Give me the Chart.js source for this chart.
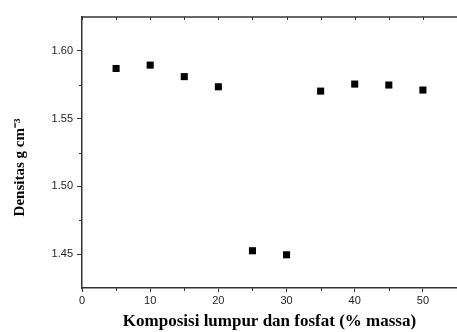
<!DOCTYPE html>
<html>
<head>
<meta charset="utf-8">
<script src="https://cdn.jsdelivr.net/npm/chart.js@4"></script>
<style>
  html, body { margin: 0; padding: 0; background: #fff; }
  #wrap { width: 457px; height: 332px; }
</style>
</head>
<body>
<div id="wrap"><canvas id="densChart" width="457" height="332"></canvas></div>
<script>
// data
const composition = [5, 10, 15, 20, 25, 30, 35, 40, 45, 50];
const density = [1.587, 1.5895, 1.581, 1.5735, 1.4525, 1.4495, 1.5703, 1.5755, 1.5748, 1.5711];
const xTicks = [0, 10, 20, 30, 40, 50];
const yTicks = [1.45, 1.50, 1.55, 1.60];
const xMinor = [5, 15, 25, 35, 45];
const yMinor = [1.475, 1.525, 1.575];

// extra ticks + top frame line
const frame = {
    id: 'frame',
    afterDraw(chart) {
        const c = chart.ctx, a = chart.chartArea;
        const xs = chart.scales.x, ys = chart.scales.y;
        c.save();
        c.strokeStyle = '#333';
        c.lineWidth = 1.5;
        c.beginPath();
        c.moveTo(a.left, a.top);
        c.lineTo(a.right, a.top);
        c.stroke();
        c.lineWidth = 1;
        c.beginPath();
        xTicks.concat(xMinor).forEach(v => {
            const px = Math.round(xs.getPixelForValue(v)) + 0.5;
            c.moveTo(px, a.top);
            c.lineTo(px, a.top + 3);
        });
        xMinor.forEach(v => {
            const px = Math.round(xs.getPixelForValue(v)) + 0.5;
            c.moveTo(px, a.bottom);
            c.lineTo(px, a.bottom + 3);
        });
        yMinor.forEach(v => {
            const py = Math.round(ys.getPixelForValue(v)) + 0.5;
            c.moveTo(a.left, py);
            c.lineTo(a.left - 3, py);
        });
        c.stroke();
        c.restore();
    }
};

const ctx = document.getElementById('densChart').getContext('2d');
new Chart(ctx, {
    type: 'scatter',
    data: {
        datasets: [{
            data: composition.map((x, i) => ({ x: x, y: density[i] })),
            pointStyle: 'rect',
            pointRadius: 5,
            pointHoverRadius: 5,
            backgroundColor: '#000',
            borderColor: '#000',
            borderWidth: 0
        }]
    },
    options: {
        responsive: false,
        animation: false,
        layout: { autoPadding: false, padding: { top: 17, right: 0, bottom: 0, left: 0 } },
        plugins: { legend: { display: false }, tooltip: { enabled: false } },
        scales: {
            x: {
                type: 'linear',
                min: 0,
                max: 55,
                afterBuildTicks: s => { s.ticks = xTicks.map(v => ({ value: v })); },
                afterFit: s => { s.height = 44; s.paddingRight = 0; s.paddingLeft = 0; },
                ticks: {
                    color: '#222',
                    padding: 2,
                    maxRotation: 0,
                    font: { family: 'Liberation Sans', size: 11 }
                },
                grid: { drawOnChartArea: false, tickLength: 4, color: '#333' },
                border: { color: '#333', width: 1.5 },
                title: {
                    display: true,
                    text: 'Komposisi lumpur dan fosfat (% massa)',
                    color: '#000',
                    padding: { top: 0, bottom: 0 },
                    font: { family: 'Liberation Serif', size: 17, weight: 'bold' }
                }
            },
            y: {
                min: 1.425,
                max: 1.625,
                afterBuildTicks: s => { s.ticks = yTicks.map(v => ({ value: v })); },
                afterFit: s => { s.width = 82; },
                ticks: {
                    color: '#222',
                    padding: 4,
                    callback: v => v.toFixed(2),
                    font: { family: 'Liberation Sans', size: 11 }
                },
                grid: { drawOnChartArea: false, tickLength: 5, color: '#333' },
                border: { color: '#333', width: 1.5 },
                title: {
                    display: true,
                    text: 'Densitas g cm\u207B\u00B3        ',
                    color: '#000',
                    padding: { top: 11, bottom: 0 },
                    font: { family: 'Liberation Serif', size: 15, weight: 'bold' }
                }
            }
        }
    },
    plugins: [frame]
});
</script>
</body>
</html>
